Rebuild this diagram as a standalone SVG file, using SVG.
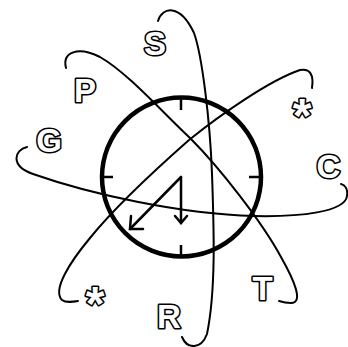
<svg xmlns="http://www.w3.org/2000/svg" width="348" height="347" viewBox="0 0 348 347">
<style>
.orbit{fill:none;stroke:#000;stroke-width:2;stroke-linecap:round}
.lbl{font-family:"Liberation Sans",Arial,sans-serif;font-weight:bold;font-size:33px;fill:#fff;stroke:#000;stroke-width:3.2;stroke-linejoin:round;paint-order:stroke;text-anchor:middle}
.star{font-size:48px}
.hand{fill:none;stroke:#000;stroke-width:2.5;stroke-linecap:round;stroke-linejoin:miter}
.tick{stroke:#000;stroke-width:2.5}
</style>
<rect width="348" height="347" fill="#fff"/>
<g id="connectors">
<path id="orbit-GC" class="orbit" d="M27,147 C14,150 10,166 33,174 C90,194 180,214 254,216 C300,217 345,212 347,196 C348,189 345,185 341,184"/>
<path id="orbit-SR" class="orbit" d="M158,21 C162,7 180,3 194,33 C202,55 210,120 212,174 C214,230 216,290 207,334 C201,350 187,349 182,337"/>
<path id="orbit-PT" class="orbit" d="M66,68 C62,52 78,46 100,57 C128,73 163,113 190,138 C220,168 262,222 281,257 C294,280 304,303 291,303 C286,303 282,302 279,301"/>
<path id="orbit-stars" class="orbit" d="M312,88 C314,75 310,68 300,70 C270,80 220,115 189,140 C155,170 115,207 90,238 C70,262 52,290 62,300 C66,303 72,302 78,301"/>
</g>
<g id="clock">
<circle cx="181.5" cy="177" r="79.5" fill="none" stroke="#000" stroke-width="4.5"/>
<line class="tick" x1="181" y1="97" x2="181" y2="110"/>
<line class="tick" x1="101" y1="177" x2="113" y2="177"/>
<line class="tick" x1="249" y1="177" x2="262" y2="177"/>
<line class="tick" x1="181" y1="245" x2="181" y2="257"/>
<polyline class="hand" points="181,177 181,223"/>
<polyline class="hand" points="175,216 181,223 187,216"/>
<polyline class="hand" points="181,177 130,229"/>
<polyline class="hand" points="131,216 130,229 143,229"/>
</g>
<g id="node-S"><text class="lbl" x="155" y="55">S</text></g>
<g id="node-P"><text class="lbl" x="85" y="102">P</text></g>
<g id="node-G"><text class="lbl" x="49" y="152">G</text></g>
<g id="node-C"><text class="lbl" x="328.5" y="178">C</text></g>
<g id="node-T"><text class="lbl" x="262.5" y="300">T</text></g>
<g id="node-R"><text class="lbl" x="169" y="328">R</text></g>
<g id="node-star1"><text class="lbl star" x="302" y="132">*</text></g>
<g id="node-star2"><text class="lbl star" x="95" y="320">*</text></g>
</svg>
